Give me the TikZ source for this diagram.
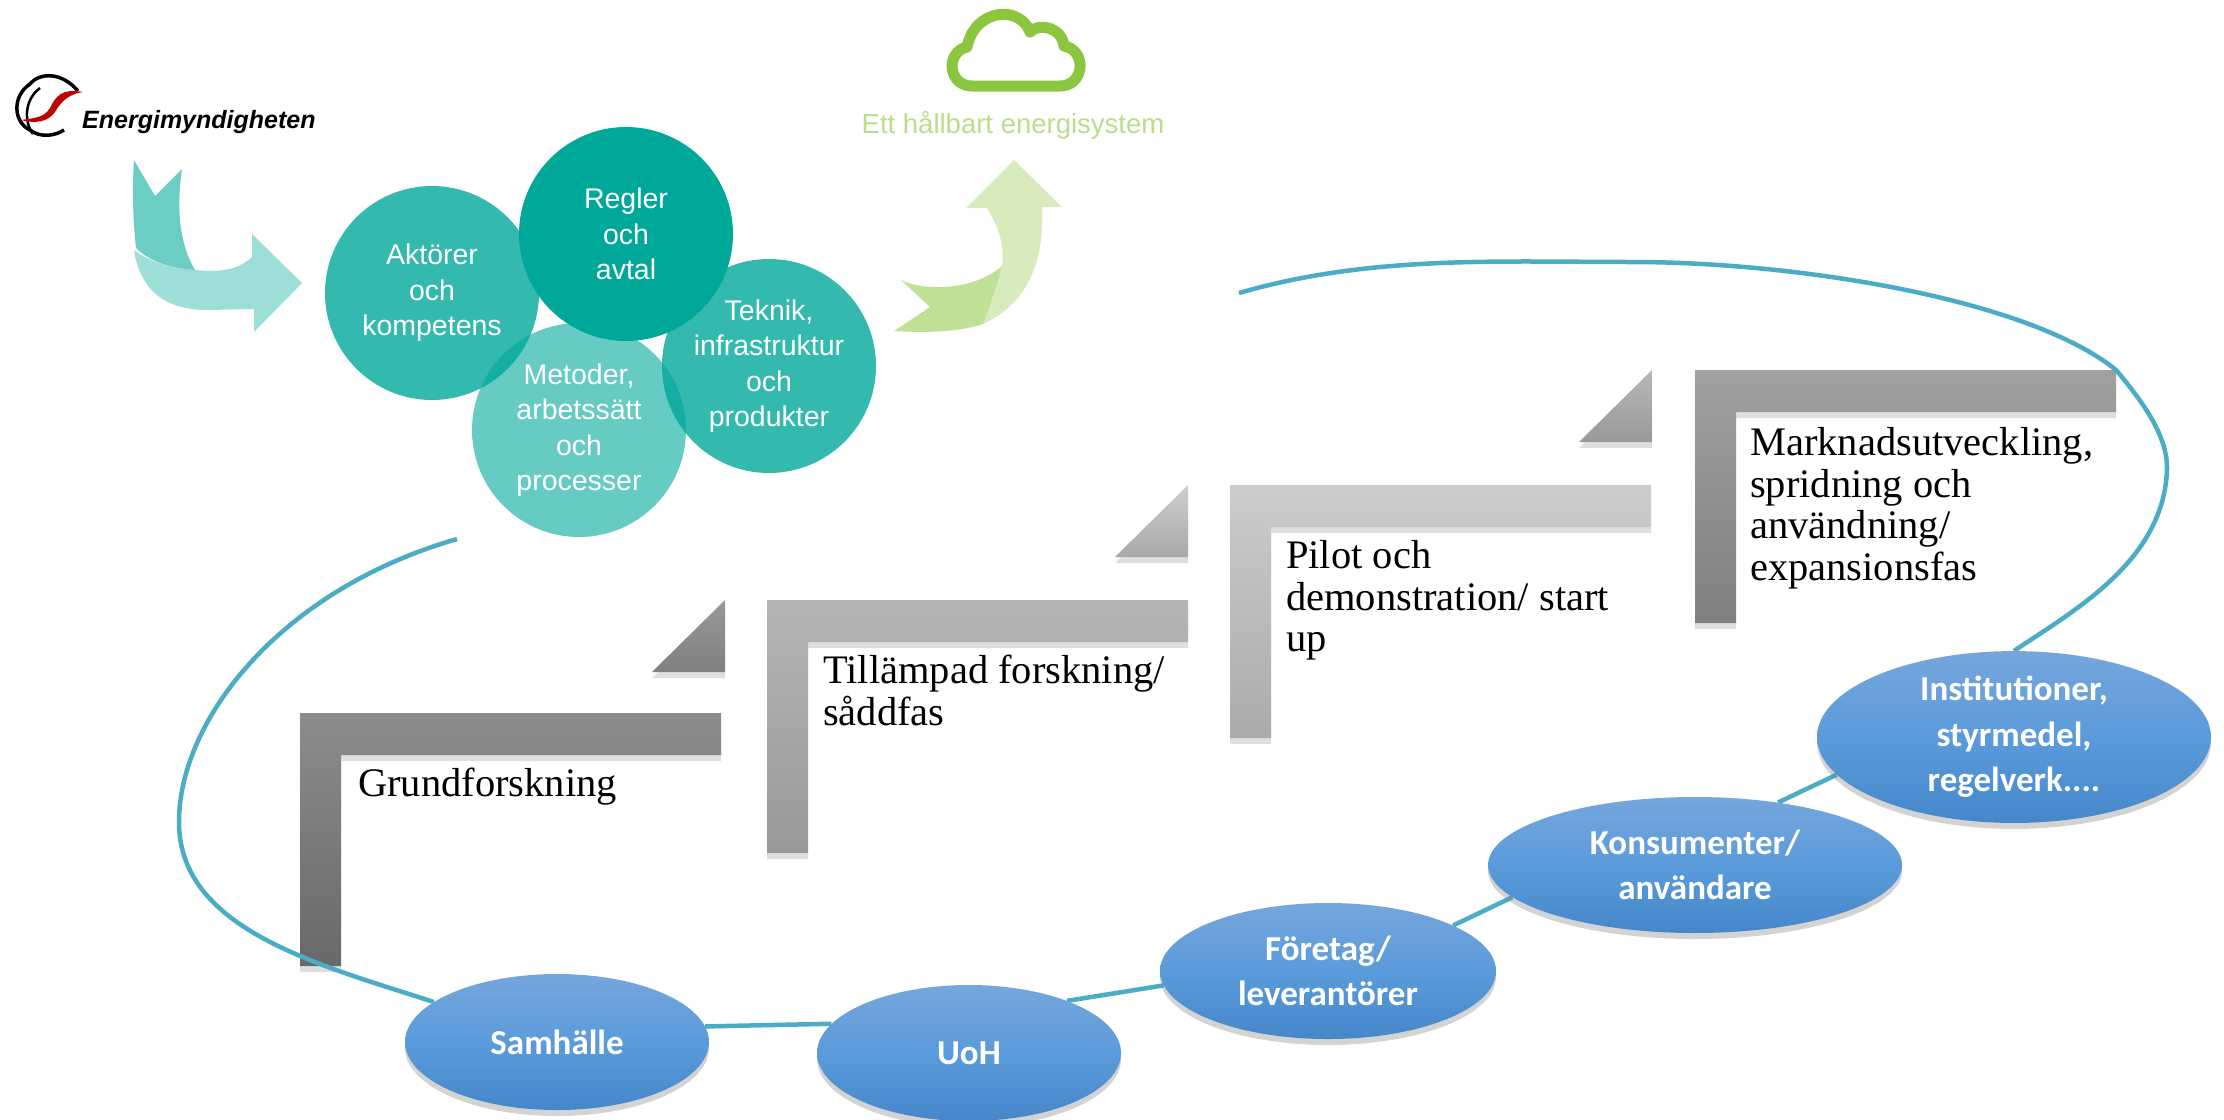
\documentclass[tikz,border=0pt]{standalone}
\usepackage{fontspec}
\setmainfont{Liberation Serif}
\newfontfamily\circlefont{Liberation Sans}
\newfontfamily\ellipsefont{Carlito}
\usetikzlibrary{shadows,backgrounds,shapes.geometric}
\definecolor{tealc}{HTML}{00A89A}
\definecolor{curvec}{HTML}{4BACC6}
\definecolor{cloudc}{HTML}{8CC63F}
\definecolor{ellt}{HTML}{76A6DC}
\definecolor{ellm}{HTML}{5B9BDB}
\definecolor{ellb}{HTML}{4587C9}
\tikzset{
  area/.style={circle,minimum size=214pt,inner sep=0pt,align=center,fill=tealc,text=white,text opacity=1,
    font=\circlefont\fontsize{28.5}{35.5}\selectfont},
  actor/.style={ellipse,minimum width=#1,minimum height=136pt,inner sep=0pt,align=center,text=white,
    top color=ellt,bottom color=ellb,middle color=ellm,font=\ellipsefont\bfseries\fontsize{35}{45.5}\selectfont,
    drop shadow={shadow xshift=0pt,shadow yshift=-6pt,opacity=.35}},
  phase/.style={anchor=north west,inner sep=0pt,align=left,font=\fontsize{40.5}{41.7}\selectfont},
  curve/.style={curvec,line width=4.5pt},
  stepshadow/.style={drop shadow={shadow xshift=0pt,shadow yshift=-6pt,opacity=.25}}
}
\begin{document}
\begin{tikzpicture}[x=1pt,y=-1pt]
\useasboundingbox (0,0) rectangle (2224,1119);
% arrows and circles
\fill[color=tealc!38!white] (134,250) .. controls (140,290) and (165,310) .. (207,310) -- (254,309) -- (254,332) -- (302,283) -- (252,234) -- (252,257) .. controls (240,268) and (225,273) .. (195,270) .. controls (170,268) and (150,262) .. (134,250) -- cycle;
\fill[color=tealc!58!white] (134,160) -- (155,196) -- (182,169) .. controls (176,210) and (180,245) .. (195,270) .. controls (170,268) and (150,262) .. (136,248) .. controls (133,220) and (132,190) .. (134,160) -- cycle;
\fill[color=cloudc!35!white] (1014,160) -- (1062,207) -- (1042,207) .. controls (1044,250) and (1035,300) .. (983,324) .. controls (992,300) and (997,285) .. (1002,266) .. controls (1004,250) and (1002,232) .. (987,208) -- (966,208) -- cycle;
\fill[color=cloudc!55!white] (901,280) .. controls (925,292) and (975,290) .. (1002,266) .. controls (997,285) and (992,300) .. (983,324) .. controls (960,332) and (925,333) .. (894,331) -- (930,307) -- cycle;
\node[area,fill opacity=.6] (metoder) at (579,430) {Metoder,\\arbetssätt\\och\\processer};
\node[area,fill opacity=.8] (aktorer) at (432,293) {Aktörer\\och\\kompetens};
\node[area,fill opacity=.8] (teknik) at (769,366) {Teknik,\\infrastruktur\\och\\produkter};
\node[area] (regler) at (626,234) {Regler\\och\\avtal};
% cloud and logo
\draw[cloudc,line width=11pt,fill=white,line join=round] (972,86) -- (1060,86) .. controls (1085,86) and (1087,50) .. (1064,46) .. controls (1062,28) and (1040,22) .. (1030,32) .. controls (1020,5) and (975,8) .. (967,47) .. controls (945,52) and (948,86) .. (972,86) -- cycle;
\node[text=cloudc!60!white,font=\circlefont\fontsize{27.5}{30}\selectfont] (goal) at (1013,125) {Ett hållbart energisystem};
\node[font=\circlefont\bfseries\itshape\fontsize{25}{28}\selectfont,anchor=west,inner sep=0pt] (agency) at (82,122) {Energimyndigheten};
\draw[line width=3.5pt] (78,91) .. controls (62,72) and (40,72) .. (30,84) .. controls (12,96) and (13,122) .. (30,130) .. controls (40,138) and (55,136) .. (64,130);
\draw[line width=2.5pt] (40,88) .. controls (24,100) and (24,122) .. (33,134);
\fill[red!75!black] (83,92) .. controls (62,88) and (56,96) .. (50,108) .. controls (44,118) and (34,118) .. (21,120) .. controls (35,124) and (48,122) .. (55,112) .. controls (62,100) and (70,94) .. (83,92) -- cycle;
% the phases
\node[phase] (grund) at (358,768) {Grundforskning};
\node[phase] (tillampad) at (823,655) {Tillämpad forskning/\\såddfas};
\node[phase] (pilot) at (1286,540) {Pilot och\\demonstration/ start\\up};
\node[phase] (marknad) at (1750,427) {Marknadsutveckling,\\spridning och\\användning/\\expansionsfas};
\node[actor=304pt] (sam) at (557,1042) {Samhälle};
\node[actor=304pt] (uoh) at (969,1053) {UoH};
\node[actor=336pt] (foretag) at (1328,971) {Företag/\\leverantörer};
\node[actor=414pt] (kons) at (1695,865) {Konsumenter/\\användare};
\node[actor=394pt] (inst) at (2014,737) {Institutioner,\\styrmedel,\\regelverk....};
\begin{scope}[on background layer]
\foreach \lx/\ly/\ltop/\lbot in {300/713/45/59,767/600/29/40,1230/485/20/33,1695/370/37/50}{
  \path[stepshadow,top color=black!\ltop,bottom color=black!\lbot] (\lx,\ly) -- ++(421,0) -- ++(0,42) -- ++(-380,0) -- ++(0,211) -- ++(-41,0) -- cycle;
}
\foreach \tx/\ty/\ttop/\tbot in {725/600/40/50,1188/485/19/34,1652/370/28/40}{
  \path[stepshadow,top color=black!\ttop,bottom color=black!\tbot] (\tx,\ty) -- ++(0,72) -- ++(-73,0) -- cycle;
}
\coordinate (curvestart) at (1239,293);
\coordinate (curveend) at (457,539);
\draw[curve] (curvestart) .. controls (1370,255) and (1500,262) .. (1632,262) .. controls (1800,262) and (2030,300) .. (2116,370) .. controls (2150,410) and (2167,440) .. (2167,468) .. controls (2165,560) and (2075,610) .. (inst.north);
\draw[curve] (sam.162) .. controls (320,965) and (179,930) .. (179,822) .. controls (179,720) and (280,590) .. (curveend);
\draw[curve] (sam.6) -- (uoh.168);
\draw[curve] (uoh.28) -- (foretag.185);
\draw[curve] (foretag.20) -- (kons.190);
\draw[curve] (kons.37) -- (inst.192);
\end{scope}
\end{tikzpicture}
\end{document}
